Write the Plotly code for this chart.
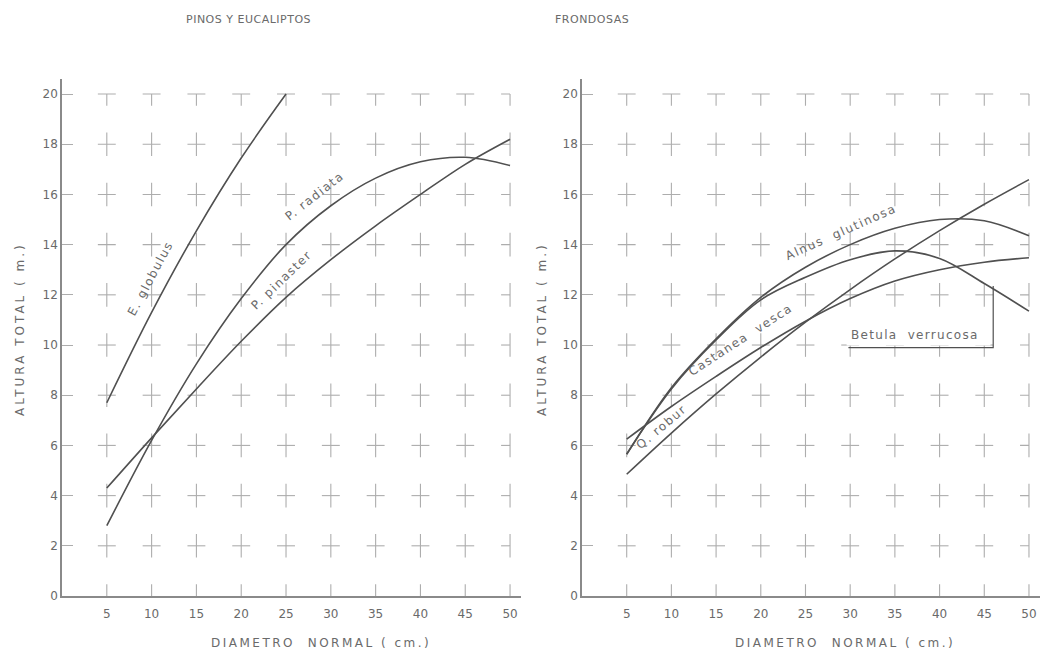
import plotly.graph_objects as go

# ---------------- data ----------------
diam = [5, 10, 15, 20, 25, 30, 35, 40, 45, 50]
diam_glob = [5, 10, 15, 20, 25]

e_globulus = [7.7, 11.3, 14.55, 17.45, 20.0]
p_radiata = [2.8, 6.2, 9.25, 11.85, 14.0, 15.55, 16.65, 17.3, 17.48, 17.15]
p_pinaster = [4.3, 6.3, 8.25, 10.15, 11.9, 13.4, 14.75, 16.0, 17.2, 18.2]

alnus = [5.65, 8.3, 10.25, 11.9, 13.1, 14.0, 14.65, 15.0, 14.95, 14.35]
betula = [5.65, 8.25, 10.2, 11.8, 12.7, 13.4, 13.75, 13.45, 12.45, 11.35]
castanea = [6.25, 7.55, 8.75, 9.9, 10.95, 11.85, 12.55, 13.0, 13.3, 13.48]
q_robur = [4.85, 6.49, 8.05, 9.52, 10.91, 12.21, 13.43, 14.56, 15.61, 16.59]

x_ticks = [5, 10, 15, 20, 25, 30, 35, 40, 45, 50]
y_ticks = [0, 2, 4, 6, 8, 10, 12, 14, 16, 18, 20]
x_labels = [str(v) for v in x_ticks]
y_labels = [str(v) for v in y_ticks]

titles = ["PINOS Y EUCALIPTOS", "FRONDOSAS"]
y_title = "ALTURA TOTAL ( m.)"
x_title = "DIAMETRO  NORMAL ( cm.)"

# ---------------- styling ----------------
LINE = "#505050"
GRID = "#adadad"
AXIS = "#8a8a8a"
TXT = "#6a6a6a"
FONT = "DejaVu Sans"

W, H = 1043, 654


def px_x(p):
    return p / W


def px_y(p):
    return 1 - p / H


def spaced(t, sp):
    return '<span style="letter-spacing:%spx">%s</span>' % (sp, t)


def crosses(xt, yt, hx, hy):
    xmax, ymax = max(xt), max(yt)
    xs, ys = [], []
    for x in xt:
        for y in yt:
            if y > 0:
                xs += [x - hx, min(x + hx, xmax), None]
                ys += [y, y, None]
            xs += [x, x, None]
            ys += [max(y - hy, 0), min(y + hy, ymax), None]
    return xs, ys


fig = go.Figure()

gx, gy = crosses(x_ticks, y_ticks, 1.0, 0.47)
for xa, ya in (("x", "y"), ("x2", "y2")):
    fig.add_trace(go.Scatter(x=gx, y=gy, mode="lines", xaxis=xa, yaxis=ya,
                             line=dict(color=GRID, width=1.1),
                             hoverinfo="skip", showlegend=False))

curve = dict(color=LINE, width=1.6, shape="spline", smoothing=1.0)
left_series = [(diam_glob, e_globulus), (diam, p_radiata), (diam, p_pinaster)]
right_series = [(diam, alnus), (diam, betula), (diam, castanea), (diam, q_robur)]
for xs, ys in left_series:
    fig.add_trace(go.Scatter(x=xs, y=ys, mode="lines", line=curve,
                             xaxis="x", yaxis="y", showlegend=False))
for xs, ys in right_series:
    fig.add_trace(go.Scatter(x=xs, y=ys, mode="lines", line=curve,
                             xaxis="x2", yaxis="y2", showlegend=False))

xrange = [0, 51.2]
yrange = [0, 20.6]
yd = [px_y(596), px_y(79)]

xaxis_common = dict(range=xrange, showgrid=False, zeroline=False, showline=True,
                    linecolor=AXIS, linewidth=1.6, tickmode="array",
                    tickvals=x_ticks, ticktext=x_labels, ticks="",
                    ticklabelstandoff=6, automargin=False,
                    tickfont=dict(family=FONT, size=12, color=TXT))
yaxis_common = dict(range=yrange, showgrid=False, zeroline=False, showline=True,
                    linecolor=AXIS, linewidth=1.6, tickmode="array",
                    tickvals=y_ticks, ticktext=y_labels, ticks="inside",
                    ticklen=11, tickcolor=GRID, tickwidth=1.1, automargin=False,
                    tickfont=dict(family=FONT, size=12, color=TXT))

fig.update_layout(
    width=W, height=H,
    margin=dict(l=0, r=0, t=0, b=0, pad=0),
    paper_bgcolor="white", plot_bgcolor="white",
    xaxis=dict(domain=[px_x(62), px_x(520.8)], anchor="y", **xaxis_common),
    yaxis=dict(domain=yd, anchor="x", **yaxis_common),
    xaxis2=dict(domain=[px_x(582), px_x(1039.7)], anchor="y2", **xaxis_common),
    yaxis2=dict(domain=yd, anchor="x2", **yaxis_common),
    showlegend=False,
)

ctr = dict(xanchor="center", yanchor="middle", xref="paper", yref="paper", showarrow=False)
ann = []
# panel titles
ann.append(dict(text=spaced(titles[0], 0.5), x=px_x(248), y=px_y(20),
                font=dict(family=FONT, size=11, color=TXT), **ctr))
ann.append(dict(text=spaced(titles[1], 0.5), x=px_x(592), y=px_y(20),
                font=dict(family=FONT, size=11, color=TXT), **ctr))
# axis titles
for xp in (20, 542):
    ann.append(dict(text=spaced(y_title, 3), x=px_x(xp), y=px_y(329), textangle=-90,
                    font=dict(family=FONT, size=12, color=TXT), **ctr))
for xp in (321, 845):
    ann.append(dict(text=spaced(x_title, 2.5), x=px_x(xp), y=px_y(643),
                    font=dict(family=FONT, size=12, color=TXT), **ctr))

# curve labels
lab = dict(showarrow=False, xanchor="center", yanchor="middle",
           font=dict(family=FONT, size=12, color=TXT))
LS = 1.5
ann.append(dict(text=spaced("E. globulus", LS), x=9.8, y=12.65, xref="x", yref="y", textangle=-62, **lab))
ann.append(dict(text=spaced("P. radiata", LS), x=28.2, y=15.95, xref="x", yref="y", textangle=-38, **lab))
ann.append(dict(text=spaced("P. pinaster", LS), x=24.5, y=12.6, xref="x", yref="y", textangle=-44, **lab))
ann.append(dict(text=spaced("Alnus  glutinosa", LS), x=29.0, y=14.5, xref="x2", yref="y2", textangle=-24, **lab))
ann.append(dict(text=spaced("Castanea  vesca", LS), x=17.7, y=10.2, xref="x2", yref="y2", textangle=-33, **lab))
ann.append(dict(text=spaced("Q. robur", LS), x=8.9, y=6.72, xref="x2", yref="y2", textangle=-40, **lab))
lab_left = dict(lab, xanchor="left")
ann.append(dict(text=spaced("Betula  verrucosa", 1.3), x=29.9, y=10.4, xref="x2", yref="y2", **lab_left))
fig.update_layout(annotations=ann)

# white patch behind the Betula label, then its leader line
fig.add_shape(type="rect", xref="x2", yref="y2", x0=29.6, x1=45.7, y0=9.98, y1=10.9,
              fillcolor="white", line=dict(width=0), layer="above")
fig.add_shape(type="path", xref="x2", yref="y2",
              path="M 29.8 9.9 L 46 9.9 L 46 12.35",
              line=dict(color=LINE, width=1.2))

fig.write_html("out.html", config={"displayModeBar": False},
               post_script="document.body.style.margin='0px';document.body.style.padding='0px';")
